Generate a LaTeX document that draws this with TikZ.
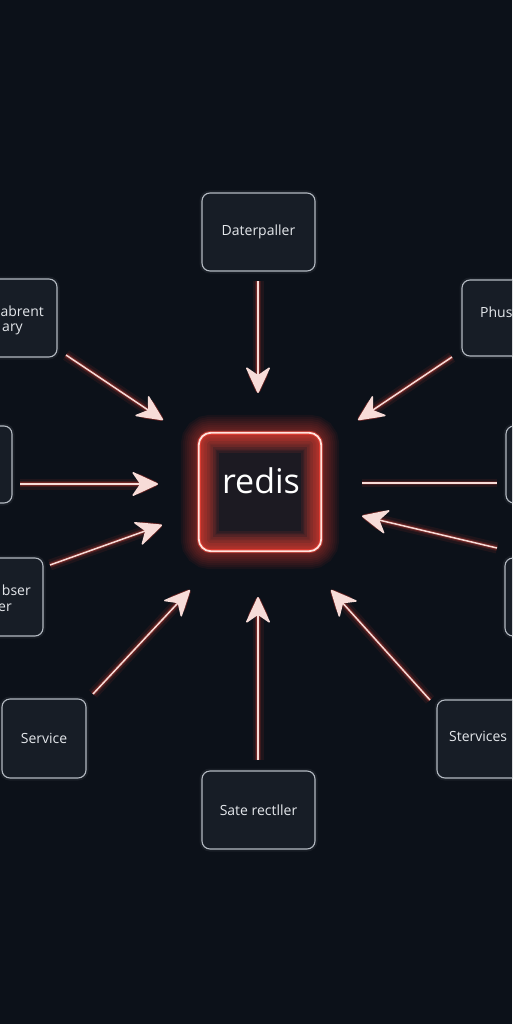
\documentclass[tikz,border=0pt]{standalone}
\usepackage{fontspec}
\setmainfont{Open Sans}
\usetikzlibrary{arrows.meta}
\definecolor{bg}{HTML}{0C1119}
\definecolor{boxfill}{HTML}{171D26}
\definecolor{boxline}{HTML}{B4BAC2}
\definecolor{txt}{HTML}{E4E7EB}
\definecolor{arr}{HTML}{F7DCD8}
\definecolor{glowred}{HTML}{FF4536}
\definecolor{redfill}{HTML}{1C1A22}
\definecolor{redline}{HTML}{FFE4DE}
\tikzset{
  svc/.style={draw=boxline, fill=boxfill, line width=1.1pt, rounded corners=8pt,
    inner sep=0pt, text=txt, font=\fontsize{14}{17}\selectfont,
    preaction={draw=boxline, line width=5pt, opacity=0.08}},
  lbl/.style={inner sep=0pt, text=txt, font=\fontsize{14}{17}\selectfont},
  redisbox/.style={fill=redfill, rounded corners=12pt, inner sep=0pt},
  headtip/.style={-{Stealth[length=28pt,width=26pt,inset=9pt,round]}},
}
\newcommand\glowarrow[2]{%
  \draw[glowred, opacity=0.08, line width=11pt, headtip, line join=round] (#1) -- (#2);
  \draw[glowred, opacity=0.14, line width=6pt, headtip, line join=round] (#1) -- (#2);
  \draw[glowred, opacity=0.25, line width=3.5pt, headtip, line join=round] (#1) -- (#2);
  \draw[arr, line width=1.5pt, headtip, line join=round] (#1) -- (#2);}
\newcommand\glowline[2]{%
  \draw[glowred, opacity=0.08, line width=8pt] (#1) -- (#2);
  \draw[glowred, opacity=0.18, line width=3.5pt] (#1) -- (#2);
  \draw[arr, line width=1.5pt] (#1) -- (#2);}
\begin{document}
\begin{tikzpicture}[x=1pt,y=-1pt]
\useasboundingbox (0,0) rectangle (512,1024);
\clip (0,0) rectangle (512,1024);
\fill[bg] (0,0) rectangle (512,1024);

% boxes
\node[svc, minimum width=113pt, minimum height=78pt] (top) at (258.5,232) {Daterpaller};
\node[svc, minimum width=117pt, minimum height=78pt] (ul) at (-1.5,318) {};
\node[svc, minimum width=112pt, minimum height=77pt] (l) at (-44,464.5) {};
\node[svc, minimum width=118pt, minimum height=76pt] (ur) at (521,318) {};
\node[svc, minimum width=114pt, minimum height=77pt] (r) at (563,464.5) {};
\node[svc, minimum width=113pt, minimum height=78pt] (ll) at (-13.5,597) {};
\node[svc, minimum width=115pt, minimum height=78pt] (rl) at (562.5,597) {};
\node[svc, minimum width=84pt, minimum height=79pt] (bl) at (44,738.5) {Service};
\node[svc, minimum width=113pt, minimum height=78pt] (br) at (493.5,739) {};
\node[svc, minimum width=113pt, minimum height=78pt] (bot) at (258.5,810) {Sate rectller};

% partial labels
\node[lbl, anchor=east] (ult1) at (44,311) {abrent};
\node[lbl, anchor=east] (ult2) at (23,329) {ary};
\node[lbl, anchor=west] (urt) at (480,312) {Phus};
\node[lbl, anchor=east] (llt1) at (31,590) {bser};
\node[lbl, anchor=east] (llt2) at (12,608) {er};
\node[lbl, anchor=west] (brt) at (449,736) {Stervices};

% redis
\node[redisbox, minimum width=122pt, minimum height=118pt] (redis) at (260,492) {};
\foreach \w in {36,32,...,4}
  \draw[glowred, opacity=0.055, line width=\w pt, rounded corners=12pt]
    (redis.north west) rectangle (redis.south east);
\begin{scope}
  \clip[rounded corners=12pt] (redis.north west) rectangle (redis.south east);
  \foreach \w in {40,34,...,4}
    \draw[glowred, opacity=0.09, line width=\w pt, rounded corners=12pt]
      (redis.north west) rectangle (redis.south east);
\end{scope}
\draw[glowred, opacity=0.5, line width=4pt, rounded corners=12pt]
    (redis.north west) rectangle (redis.south east);
\draw[redline, line width=1.8pt, rounded corners=12pt]
    (redis.north west) rectangle (redis.south east);
\node[inner sep=0pt, text=white, font=\fontsize{34}{38}\selectfont] (redislbl) at (261,481) {redis};

% connectors
\coordinate (a1s) at (258,281); \coordinate (a1t) at (258,393);
\coordinate (a2s) at (66,355);  \coordinate (a2t) at (163,420);
\coordinate (a3s) at (452,357); \coordinate (a3t) at (358,420);
\coordinate (a4s) at (20,484);  \coordinate (a4t) at (158,484);
\coordinate (a5s) at (497,483); \coordinate (a5t) at (362,483);
\coordinate (a6s) at (50,565);  \coordinate (a6t) at (162,525);
\coordinate (a7s) at (497,548); \coordinate (a7t) at (362,516);
\coordinate (a8s) at (93,694);  \coordinate (a8t) at (190,590);
\coordinate (a9s) at (258,760); \coordinate (a9t) at (258,597);
\coordinate (a10s) at (430,700); \coordinate (a10t) at (331,590);

\glowarrow{a1s}{a1t}
\glowarrow{a2s}{a2t}
\glowarrow{a3s}{a3t}
\glowarrow{a4s}{a4t}
\glowline{a5s}{a5t}
\glowarrow{a6s}{a6t}
\glowarrow{a7s}{a7t}
\glowarrow{a8s}{a8t}
\glowarrow{a9s}{a9t}
\glowarrow{a10s}{a10t}
\end{tikzpicture}
\end{document}
